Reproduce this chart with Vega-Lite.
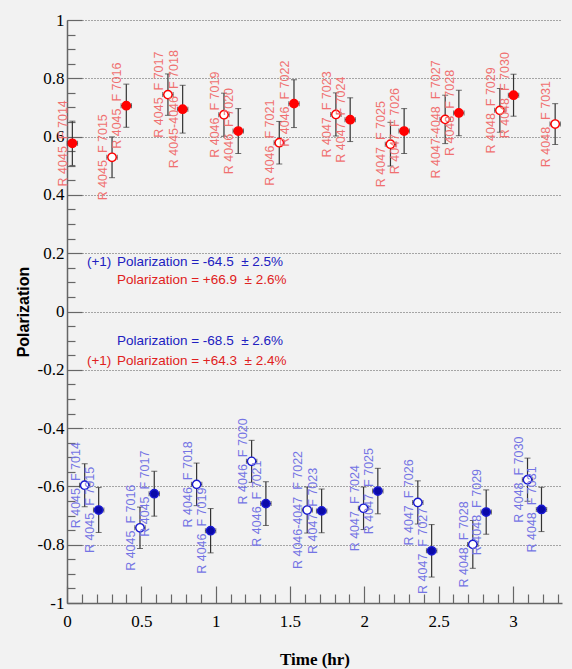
{
  "$schema": "https://vega.github.io/schema/vega-lite/v6.json",
  "width": 495,
  "height": 583,
  "autosize": {"type": "none"},
  "padding": {"left": 67, "top": 20, "right": 10, "bottom": 66},
  "background": "#f2f2f2",
  "config": {"view": {"stroke": null}},
  "datasets": {
    "pts": [
      {"set": "red", "kind": "filled", "t": 0.036, "p": 0.577, "e": 0.076, "ex": 0.035, "label": "R 4045\u00a0\u00a0F 7014"},
      {"set": "red", "kind": "open", "t": 0.303, "p": 0.529, "e": 0.070, "ex": 0.035, "label": "R 4045\u00a0\u00a0F 7015"},
      {"set": "red", "kind": "filled", "t": 0.399, "p": 0.706, "e": 0.074, "ex": 0.035, "label": "R 4045\u00a0\u00a0F 7016"},
      {"set": "red", "kind": "open", "t": 0.679, "p": 0.744, "e": 0.071, "ex": 0.035, "label": "R 4045\u00a0\u00a0F 7017"},
      {"set": "red", "kind": "filled", "t": 0.778, "p": 0.694, "e": 0.082, "ex": 0.035, "label": "R 4045-4046\u00a0\u00a0F 7018"},
      {"set": "red", "kind": "open", "t": 1.056, "p": 0.675, "e": 0.074, "ex": 0.035, "label": "R 4046\u00a0\u00a0F 7019"},
      {"set": "red", "kind": "filled", "t": 1.152, "p": 0.619, "e": 0.077, "ex": 0.035, "label": "R 4046\u00a0\u00a0F 7020"},
      {"set": "red", "kind": "open", "t": 1.428, "p": 0.579, "e": 0.073, "ex": 0.035, "label": "R 4046\u00a0\u00a0F 7021"},
      {"set": "red", "kind": "filled", "t": 1.527, "p": 0.713, "e": 0.082, "ex": 0.035, "label": "R 4046\u00a0\u00a0F 7022"},
      {"set": "red", "kind": "open", "t": 1.809, "p": 0.676, "e": 0.074, "ex": 0.035, "label": "R 4047\u00a0\u00a0F 7023"},
      {"set": "red", "kind": "filled", "t": 1.905, "p": 0.658, "e": 0.075, "ex": 0.035, "label": "R 4047\u00a0\u00a0F 7024"},
      {"set": "red", "kind": "open", "t": 2.176, "p": 0.574, "e": 0.075, "ex": 0.035, "label": "R 4047\u00a0\u00a0F 7025"},
      {"set": "red", "kind": "filled", "t": 2.268, "p": 0.619, "e": 0.077, "ex": 0.035, "label": "R 4047\u00a0\u00a0F 7026"},
      {"set": "red", "kind": "open", "t": 2.544, "p": 0.659, "e": 0.083, "ex": 0.035, "label": "R 4047-4048\u00a0\u00a0F 7027"},
      {"set": "red", "kind": "filled", "t": 2.636, "p": 0.681, "e": 0.078, "ex": 0.035, "label": "R 4048\u00a0\u00a0F 7028"},
      {"set": "red", "kind": "open", "t": 2.912, "p": 0.690, "e": 0.075, "ex": 0.035, "label": "R 4048\u00a0\u00a0F 7029"},
      {"set": "red", "kind": "filled", "t": 3.004, "p": 0.742, "e": 0.072, "ex": 0.035, "label": "R 4048\u00a0\u00a0F 7030"},
      {"set": "red", "kind": "open", "t": 3.284, "p": 0.643, "e": 0.070, "ex": 0.035, "label": "R 4048\u00a0\u00a0F 7031"},
      {"set": "blue", "kind": "open", "t": 0.119, "p": -0.596, "e": 0.074, "ex": 0.035, "label": "R 4045\u00a0\u00a0F 7014"},
      {"set": "blue", "kind": "filled", "t": 0.213, "p": -0.681, "e": 0.077, "ex": 0.035, "label": "R 4045\u00a0\u00a0F 7015"},
      {"set": "blue", "kind": "open", "t": 0.491, "p": -0.742, "e": 0.071, "ex": 0.035, "label": "R 4045\u00a0\u00a0F 7016"},
      {"set": "blue", "kind": "filled", "t": 0.587, "p": -0.625, "e": 0.077, "ex": 0.035, "label": "R 4045\u00a0\u00a0F 7017"},
      {"set": "blue", "kind": "open", "t": 0.872, "p": -0.593, "e": 0.073, "ex": 0.035, "label": "R 4046\u00a0\u00a0F 7018"},
      {"set": "blue", "kind": "filled", "t": 0.966, "p": -0.752, "e": 0.076, "ex": 0.035, "label": "R 4046\u00a0\u00a0F 7019"},
      {"set": "blue", "kind": "open", "t": 1.242, "p": -0.514, "e": 0.072, "ex": 0.035, "label": "R 4046\u00a0\u00a0F 7020"},
      {"set": "blue", "kind": "filled", "t": 1.338, "p": -0.659, "e": 0.075, "ex": 0.035, "label": "R 4046\u00a0\u00a0F 7021"},
      {"set": "blue", "kind": "open", "t": 1.616, "p": -0.681, "e": 0.079, "ex": 0.035, "label": "R 4046-4047\u00a0\u00a0F 7022"},
      {"set": "blue", "kind": "filled", "t": 1.713, "p": -0.684, "e": 0.075, "ex": 0.035, "label": "R 4047\u00a0\u00a0F 7023"},
      {"set": "blue", "kind": "open", "t": 1.995, "p": -0.675, "e": 0.073, "ex": 0.035, "label": "R 4047\u00a0\u00a0F 7024"},
      {"set": "blue", "kind": "filled", "t": 2.091, "p": -0.616, "e": 0.078, "ex": 0.035, "label": "R 4047\u00a0\u00a0F 7025"},
      {"set": "blue", "kind": "open", "t": 2.360, "p": -0.655, "e": 0.074, "ex": 0.035, "label": "R 4047\u00a0\u00a0F 7026"},
      {"set": "blue", "kind": "filled", "t": 2.453, "p": -0.821, "e": 0.090, "ex": 0.035, "label": "R 4047\u00a0\u00a0F 7027"},
      {"set": "blue", "kind": "open", "t": 2.730, "p": -0.799, "e": 0.082, "ex": 0.035, "label": "R 4048\u00a0\u00a0F 7028"},
      {"set": "blue", "kind": "filled", "t": 2.820, "p": -0.688, "e": 0.076, "ex": 0.035, "label": "R 4048\u00a0\u00a0F 7029"},
      {"set": "blue", "kind": "open", "t": 3.098, "p": -0.577, "e": 0.074, "ex": 0.035, "label": "R 4048\u00a0\u00a0F 7030"},
      {"set": "blue", "kind": "filled", "t": 3.192, "p": -0.679, "e": 0.076, "ex": 0.035, "label": "R 4048\u00a0\u00a0F 7031"}
    ],
    "notes": [
      {"set": "blue", "t": 0.134, "p": 0.170, "text": "(+1)"},
      {"set": "blue", "t": 0.336, "p": 0.170, "text": "Polarization = -64.5\u00a0\u00a0\u00b1 2.5%"},
      {"set": "red", "t": 0.336, "p": 0.108, "text": "Polarization = +66.9\u00a0\u00a0\u00b1 2.6%"},
      {"set": "blue", "t": 0.336, "p": -0.100, "text": "Polarization = -68.5\u00a0\u00a0\u00b1 2.6%"},
      {"set": "red", "t": 0.134, "p": -0.170, "text": "(+1)"},
      {"set": "red", "t": 0.336, "p": -0.170, "text": "Polarization = +64.3\u00a0\u00a0\u00b1 2.4%"}
    ]
  },
  "encoding": {
    "x": {
      "field": "t", "type": "quantitative",
      "scale": {"domain": [0, 3.33], "nice": false, "zero": false},
      "axis": {
        "values": [0,0.1,0.2,0.3,0.4,0.5,0.6,0.7,0.8,0.9,1,1.1,1.2,1.3,1.4,1.5,1.6,1.7,1.8,1.9,2,2.1,2.2,2.3,2.4,2.5,2.6,2.7,2.8,2.9,3,3.1,3.2,3.3],
        "labelExpr": "abs(datum.value*2 - round(datum.value*2)) < 0.001 ? ('' + round(datum.value*10)/10) : ''",
        "tickSize": {"condition": {"test": "abs(datum.value*2 - round(datum.value*2)) < 0.001", "value": -17}, "value": -9},
        "tickColor": "#666", "tickWidth": 1.2,
        "domainColor": "#666", "domainWidth": 1.5,
        "grid": false,
        "labelFont": "Liberation Serif", "labelFontSize": 17, "labelColor": "black", "labelPadding": 27,
        "labelFlush": false, "labelOverlap": false,
        "title": "Time (hr)", "titleFont": "Liberation Serif", "titleFontSize": 17, "titleFontWeight": "bold", "titleColor": "black", "titlePadding": 14
      }
    },
    "y": {
      "field": "p", "type": "quantitative",
      "scale": {"domain": [-1, 1], "nice": false, "zero": false},
      "axis": {
        "values": [-1,-0.95,-0.9,-0.85,-0.8,-0.75,-0.7,-0.65,-0.6,-0.55,-0.5,-0.45,-0.4,-0.35,-0.3,-0.25,-0.2,-0.15,-0.1,-0.05,0,0.05,0.1,0.15,0.2,0.25,0.3,0.35,0.4,0.45,0.5,0.55,0.6,0.65,0.7,0.75,0.8,0.85,0.9,0.95,1],
        "labelExpr": "abs(datum.value*5 - round(datum.value*5)) < 0.001 ? ('' + round(datum.value*10)/10) : ''",
        "tickSize": {"condition": {"test": "abs(datum.value*5 - round(datum.value*5)) < 0.001", "value": -15}, "value": -8},
        "tickColor": "#666", "tickWidth": 1.2,
        "domainColor": "#666", "domainWidth": 1.5,
        "grid": true, "gridDash": [1, 2], "gridColor": "#333", "gridWidth": 1,
        "gridOpacity": {"condition": {"test": "abs(datum.value*5 - round(datum.value*5)) < 0.001", "value": 0.8}, "value": 0},
        "labelFont": "Liberation Serif", "labelFontSize": 17, "labelColor": "black", "labelPadding": 18,
        "labelFlush": false, "labelOverlap": false,
        "title": "Polarization", "titleFont": "Liberation Sans", "titleFontSize": 16, "titleFontWeight": "bold", "titleColor": "black", "titlePadding": 6
      }
    }
  },
  "layer": [
    {
      "data": {"name": "pts"},
      "mark": {"type": "errorbar", "ticks": {"size": 6, "color": "#333"}, "rule": {"strokeWidth": 1.2}, "color": "#333"},
      "encoding": {
        "x": {"field": "t", "type": "quantitative"},
        "y": {"field": "p", "type": "quantitative"},
        "yError": {"field": "e"}
      }
    },
    {
      "data": {"name": "pts"},
      "mark": {"type": "errorbar", "ticks": {"size": 5, "color": "#333"}, "rule": {"strokeWidth": 1.2}, "color": "#333"},
      "encoding": {
        "x": {"field": "t", "type": "quantitative"},
        "xError": {"field": "ex"},
        "y": {"field": "p", "type": "quantitative"}
      }
    },
    {
      "data": {"name": "pts"},
      "mark": {"type": "point", "shape": "circle", "size": 70, "strokeWidth": 1.4, "opacity": 1, "filled": true},
      "encoding": {
        "x": {"field": "t", "type": "quantitative"},
        "y": {"field": "p", "type": "quantitative"},
        "fill": {"condition": [{"test": "datum.kind == 'open'", "value": "white"}, {"test": "datum.set == 'red'", "value": "#ff0000"}], "value": "#0a0aa8"},
        "stroke": {"condition": {"test": "datum.set == 'red'", "value": "#ff0000"}, "value": "#1a1ad0"}
      }
    },
    {
      "data": {"name": "pts"},
      "mark": {"type": "text", "angle": 270, "align": "center", "baseline": "middle", "dy": -9, "font": "Liberation Sans", "fontSize": 12.5},
      "encoding": {
        "x": {"field": "t", "type": "quantitative"},
        "y": {"field": "p", "type": "quantitative"},
        "text": {"field": "label"},
        "color": {"condition": {"test": "datum.set == 'red'", "value": "#f07070"}, "value": "#7474e4"}
      }
    },
    {
      "data": {"name": "notes"},
      "mark": {"type": "text", "align": "left", "baseline": "middle", "font": "Liberation Sans", "fontSize": 13.5},
      "encoding": {
        "x": {"field": "t", "type": "quantitative"},
        "y": {"field": "p", "type": "quantitative"},
        "text": {"field": "text"},
        "color": {"condition": {"test": "datum.set == 'red'", "value": "#e02020"}, "value": "#2020c0"}
      }
    },
    {
      "data": {"values": [{}]},
      "mark": {"type": "rule", "color": "#888", "strokeWidth": 1.5},
      "encoding": {"x": {"datum": 3.33}}
    }
  ]
}
